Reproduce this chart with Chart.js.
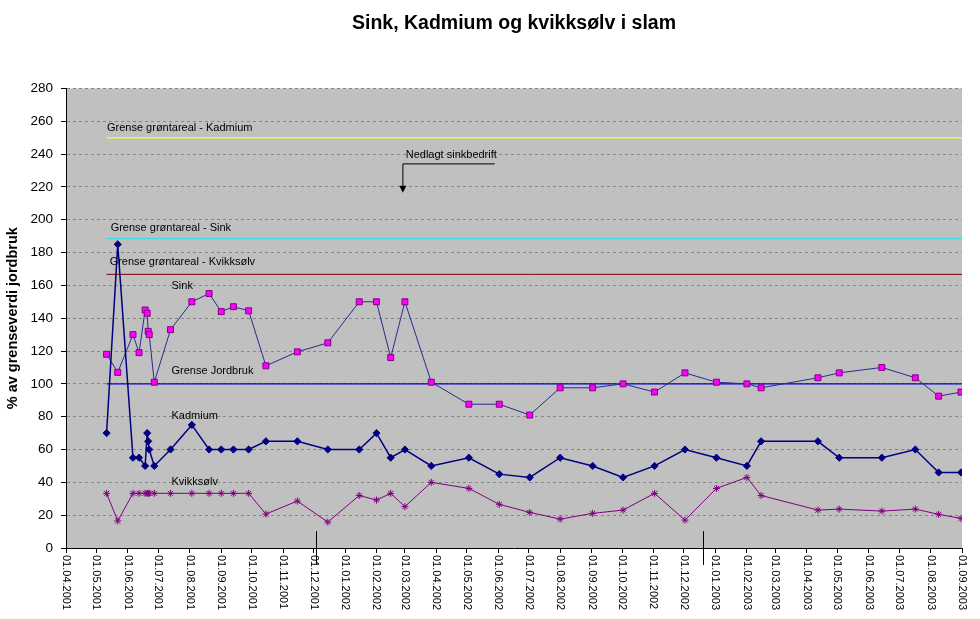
<!DOCTYPE html>
<html>
<head>
<meta charset="utf-8">
<script src="https://cdn.jsdelivr.net/npm/chart.js@4.4.0/dist/chart.umd.min.js"></script>
<style>
  html, body { margin: 0; padding: 0; background: #fff; }
</style>
</head>
<body>
<canvas id="chart" width="980" height="619"></canvas>
<script>
// prøvedatoer (dd.mm.yyyy)
const sampleDates = [
  "11.05.2001", "22.05.2001", "06.06.2001", "12.06.2001", "18.06.2001",
  "20.06.2001", "21.06.2001", "22.06.2001", "27.06.2001", "13.07.2001",
  "03.08.2001", "20.08.2001", "01.09.2001", "13.09.2001", "28.09.2001",
  "15.10.2001", "15.11.2001", "15.12.2001", "15.01.2002", "01.02.2002",
  "15.02.2002", "01.03.2002", "27.03.2002", "03.05.2002", "02.06.2002",
  "02.07.2002", "01.08.2002", "02.09.2002", "02.10.2002", "02.11.2002",
  "02.12.2002", "02.01.2003", "01.02.2003", "15.02.2003", "12.04.2003",
  "03.05.2003", "14.06.2003", "17.07.2003", "09.08.2003", "31.08.2003"
];

// % av grenseverdi jordbruk
const sink = [
  118, 107, 130, 119, 145, 143, 132, 130, 101, 133,
  150, 155, 144, 147, 144.5, 111, 119.5, 125, 150, 150,
  116, 150, 101, 87.6, 87.6, 81, 97.6, 97.6, 100, 95,
  106.7, 101, 100, 97.6, 103.7, 106.7, 110, 103.7, 92.5, 95
];
const kadmium = [
  70, 185, 55, 55, 50, 70, 65, 60, 50, 60,
  75, 60, 60, 60, 60, 65, 65, 60, 60, 70,
  55, 60, 50, 55, 45, 43, 55, 50, 43, 50,
  60, 55, 50, 65, 65, 55, 55, 60, 46, 46
];
const kvikksolv = [
  33.3, 16.5, 33.3, 33.3, 33.3, 33.3, 33.3, 33.3, 33.3, 33.3,
  33.3, 33.3, 33.3, 33.3, 33.3, 20.7, 28.6, 15.8, 32, 29.2,
  33.3, 25.2, 40, 36.3, 26.6, 21.7, 17.6, 21.1, 23.1, 33.3,
  17, 36.3, 43, 32, 23.1, 23.7, 22.5, 23.7, 20.5, 18
];

// grenseverdier
const grenseKadmium = 250;
const grenseSink = 188.5;
const grenseKvikksolv = 166.7;
const grenseJordbruk = 100;

// akseetiketter
const tickLabels = [
  "01.04.2001", "01.05.2001", "01.06.2001", "01.07.2001", "01.08.2001", "01.09.2001",
  "01.10.2001", "01.11.2001", "01.12.2001", "01.01.2002", "01.02.2002", "01.03.2002",
  "01.04.2002", "01.05.2002", "01.06.2002", "01.07.2002", "01.08.2002", "01.09.2002",
  "01.10.2002", "01.11.2002", "01.12.2002", "01.01.2003", "01.02.2003", "01.03.2003",
  "01.04.2003", "01.05.2003", "01.06.2003", "01.07.2003", "01.08.2003", "01.09.2003"
];
const markerDates = ["03.12.2001", "20.12.2002"];

const FONT = 'Arial, "Liberation Sans", sans-serif';

// dager siden første akseetikett
function dayOf(s) {
  const [d, m, y] = s.split(".").map(Number);
  const [d0, m0, y0] = tickLabels[0].split(".").map(Number);
  return (Date.UTC(y, m - 1, d) - Date.UTC(y0, m0 - 1, d0)) / 86400000;
}

const startDay = dayOf(sampleDates[0]);
const endDay = dayOf(tickLabels[tickLabels.length - 1]);

function series(values) {
  return sampleDates.map((d, i) => ({ x: dayOf(d), y: values[i] }));
}
function limitLine(v) {
  return [{ x: startDay, y: v }, { x: endDay, y: v }];
}

// tekster i plottet (plassert i dataverdier)
const notes = [
  { text: "Grense grøntareal - Kadmium", day: 40.4, val: 256 },
  { text: "Grense grøntareal - Sink", day: 44, val: 195 },
  { text: "Grense grøntareal - Kvikksølv", day: 43, val: 174.4 },
  { text: "Sink", day: 104, val: 159.8 },
  { text: "Grense Jordbruk", day: 104, val: 108 },
  { text: "Kadmium", day: 104, val: 80.6 },
  { text: "Kvikksølv", day: 104, val: 40.2 },
  { text: "Nedlagt sinkbedrift", day: 334.8, val: 239.6 }
];

const plotBackground = {
  id: "plotBackground",
  beforeDraw(chart) {
    const { ctx, chartArea: a } = chart;
    ctx.save();
    ctx.fillStyle = "#c0c0c0";
    ctx.fillRect(a.left, a.top, a.right - a.left, a.bottom - a.top);
    ctx.restore();
  }
};

const extras = {
  id: "extras",
  afterDraw(chart) {
    const { ctx, chartArea, scales: { x, y } } = chart;
    ctx.save();

    // datoetiketter, lest ovenfra og ned
    ctx.font = "11px " + FONT;
    ctx.fillStyle = "#000";
    ctx.textAlign = "left";
    ctx.textBaseline = "middle";
    tickLabels.forEach((lbl) => {
      ctx.save();
      ctx.translate(x.getPixelForValue(dayOf(lbl)), chartArea.bottom + 7);
      ctx.rotate(Math.PI / 2);
      ctx.fillText(lbl, 0, 0);
      ctx.restore();
    });

    // tekster
    notes.forEach((n) => {
      ctx.fillText(n.text, x.getPixelForValue(n.day), y.getPixelForValue(n.val));
    });

    // pil for nedlagt sinkbedrift
    const ax = x.getPixelForValue(332);
    const ay = y.getPixelForValue(234);
    const tipY = y.getPixelForValue(216.5);
    ctx.strokeStyle = "#000";
    ctx.lineWidth = 1;
    ctx.beginPath();
    ctx.moveTo(x.getPixelForValue(422.5), ay);
    ctx.lineTo(ax, ay);
    ctx.lineTo(ax, tipY - 5);
    ctx.stroke();
    ctx.fillStyle = "#000";
    ctx.beginPath();
    ctx.moveTo(ax - 3.5, tipY - 7);
    ctx.lineTo(ax + 3.5, tipY - 7);
    ctx.lineTo(ax, tipY);
    ctx.closePath();
    ctx.fill();

    // loddrette merker ved aksen
    markerDates.forEach((d) => {
      const px = Math.round(x.getPixelForValue(dayOf(d))) + 0.5;
      ctx.beginPath();
      ctx.moveTo(px, y.getPixelForValue(10.3));
      ctx.lineTo(px, chartArea.bottom + 17);
      ctx.stroke();
    });

    ctx.restore();
  }
};

const ctx = document.getElementById("chart").getContext("2d");
new Chart(ctx, {
  type: "line",
  data: {
    datasets: [
      {
        label: "Grense grøntareal - Kadmium",
        data: limitLine(grenseKadmium),
        borderColor: "#f4f432",
        borderWidth: 1.5,
        pointRadius: 0,
        order: 10
      },
      {
        label: "Grense grøntareal - Sink",
        data: limitLine(grenseSink),
        borderColor: "#3ce0e0",
        borderWidth: 1.5,
        pointRadius: 0,
        order: 10
      },
      {
        label: "Grense grøntareal - Kvikksølv",
        data: limitLine(grenseKvikksolv),
        borderColor: "#800000",
        borderWidth: 1,
        pointRadius: 0,
        order: 10
      },
      {
        label: "Grense Jordbruk",
        data: limitLine(grenseJordbruk),
        borderColor: "#0000cc",
        borderWidth: 1.2,
        pointRadius: 0,
        order: 10
      },
      {
        label: "Sink",
        data: series(sink),
        borderColor: "#2a2a90",
        borderWidth: 1,
        pointStyle: "rect",
        pointRadius: 4.2,
        pointBackgroundColor: "#ff00ff",
        pointBorderColor: "#800080",
        pointBorderWidth: 1,
        order: 3
      },
      {
        label: "Kadmium",
        data: series(kadmium),
        borderColor: "#000080",
        borderWidth: 1.5,
        pointStyle: "rectRot",
        pointRadius: 3.6,
        pointBackgroundColor: "#000080",
        pointBorderColor: "#000080",
        pointBorderWidth: 1,
        order: 2
      },
      {
        label: "Kvikksølv",
        data: series(kvikksolv),
        borderColor: "#800080",
        borderWidth: 1,
        pointStyle: "star",
        pointRadius: 3.5,
        pointBorderColor: "#800080",
        pointBorderWidth: 1,
        order: 1
      }
    ]
  },
  options: {
    responsive: false,
    animation: false,
    layout: { padding: { left: 0, right: 18, top: 0, bottom: 0 } },
    plugins: {
      legend: { display: false },
      tooltip: { enabled: false },
      title: {
        display: true,
        fullSize: false,
        text: "Sink, Kadmium og kvikksølv i slam",
        color: "#000",
        font: { family: FONT, size: 19.5, weight: "bold" },
        padding: { top: 12, bottom: 53 }
      }
    },
    scales: {
      x: {
        type: "linear",
        min: 0,
        max: endDay,
        afterBuildTicks(scale) {
          scale.ticks = tickLabels.map((l) => ({ value: dayOf(l) }));
        },
        afterFit(scale) {
          scale.height = 71;
        },
        ticks: { display: false },
        grid: { drawOnChartArea: false, tickLength: 5, color: "#000" },
        border: { color: "#000", width: 1 }
      },
      y: {
        min: 0,
        max: 280,
        afterFit(scale) {
          scale.width = 66;
        },
        ticks: {
          stepSize: 20,
          color: "#000",
          padding: 8,
          font: { family: FONT, size: 13.5 }
        },
        grid: {
          color: "#858585",
          tickColor: "#000",
          tickLength: 5,
          tickBorderDash: []
        },
        border: { color: "#000", width: 1, dash: [3, 3] },
        title: {
          display: true,
          text: "% av grenseverdi jordbruk",
          color: "#000",
          font: { family: FONT, size: 14.5, weight: "bold" },
          padding: { top: 4, bottom: 0 }
        }
      }
    }
  },
  plugins: [plotBackground, extras]
});
</script>
</body>
</html>
